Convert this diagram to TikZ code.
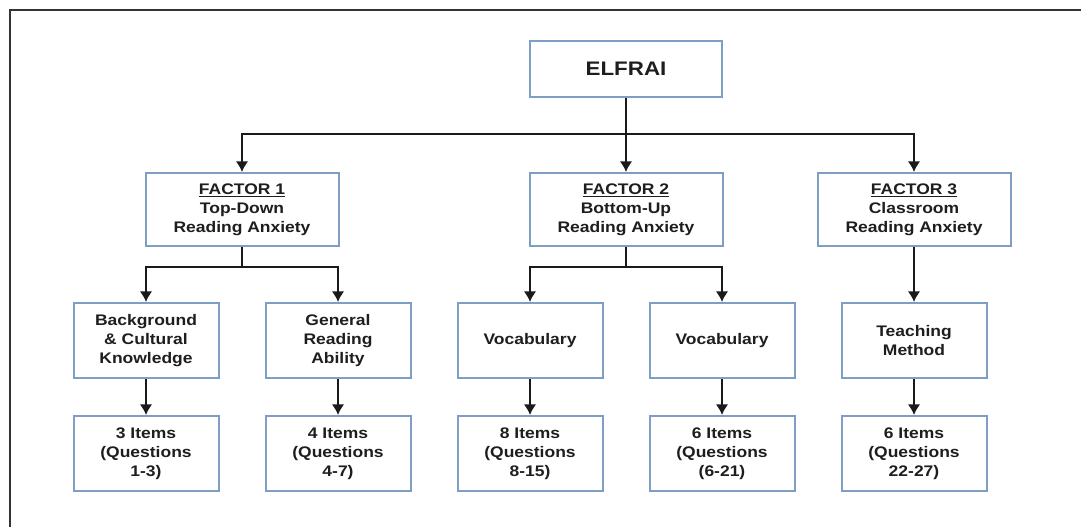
\documentclass[tikz,border=0pt]{standalone}
\usepackage{fontspec}
\setmainfont{Liberation Sans}[FakeStretch=1.14]
\usetikzlibrary{arrows.meta,positioning,calc}
\definecolor{EdgeBlue}{HTML}{7F9EC4}
\definecolor{InkGray}{HTML}{1E1E1E}
\definecolor{LineGray}{HTML}{1A1A1A}
\tikzset{
  box/.style={draw=EdgeBlue,line width=1.5pt,fill=white,align=center,text=InkGray,
              font=\fontsize{11.5}{14.25}\selectfont\bfseries,inner sep=2pt},
  topbox/.style={box,minimum width=144pt,minimum height=42pt,
              font=\fontsize{14.7}{17}\selectfont\bfseries},
  factorbox/.style={box,minimum width=144.75pt,minimum height=54.75pt},
  itembox/.style={box,minimum width=108.75pt,minimum height=56.25pt},
  flow/.style={-{Latex[length=8pt,width=9.5pt]},line width=1.5pt,draw=LineGray},
  link/.style={line width=1.5pt,draw=LineGray},
  frame/.style={line width=1.5pt,draw=black!80}
}

\begin{document}
\begin{tikzpicture}[x=0.75pt,y=-0.75pt,node distance=27pt and 33.75pt]
  \useasboundingbox (0,0) rectangle (1081,527);
  \draw[frame] (10,527) -- (10,10) -- (1081,10);

  % subscales
  \node[itembox] (bg) at (146,340.5) {Background\\\& Cultural\\Knowledge};
  \node[itembox,right=of bg] (gen) {General\\Reading\\Ability};
  \node[itembox,right=of gen] (voc1) {Vocabulary};
  \node[itembox,right=of voc1] (voc2) {Vocabulary};
  \node[itembox,right=of voc2] (teach) {Teaching\\Method};

  % item counts
  \node[itembox,below=of bg] (bgq) {3 Items\\(Questions\\1-3)};
  \node[itembox,below=of gen] (genq) {4 Items\\(Questions\\4-7)};
  \node[itembox,below=of voc1] (voc1q) {8 Items\\(Questions\\8-15)};
  \node[itembox,below=of voc2] (voc2q) {6 Items\\(Questions\\(6-21)};
  \node[itembox,below=of teach] (teachq) {6 Items\\(Questions\\22-27)};

  % factors
  \coordinate (m1) at ($(bg.north)!0.5!(gen.north)$);
  \coordinate (m2) at ($(voc1.north)!0.5!(voc2.north)$);
  \node[factorbox,above=41.25pt of m1] (f1) {\underline{FACTOR 1}\\Top-Down\\Reading Anxiety};
  \node[factorbox,above=41.25pt of m2] (f2) {\underline{FACTOR 2}\\Bottom-Up\\Reading Anxiety};
  \node[factorbox,above=41.25pt of teach] (f3) {\underline{FACTOR 3}\\Classroom\\Reading Anxiety};
  \node[topbox,above=55.5pt of f2] (elfrai) {ELFRAI};

  % connectors
  \coordinate[below=27pt of elfrai.south] (s0);
  \coordinate[below=15pt of f1.south] (s1);
  \coordinate[below=15pt of f2.south] (s2);
  \draw[flow] (elfrai) -- (f2);
  \draw[flow] (s0) -| (f1);
  \draw[flow] (s0) -| (f3);
  \draw[link] (f1) -- (s1);
  \draw[flow] (s1) -| (bg);
  \draw[flow] (s1) -| (gen);
  \draw[link] (f2) -- (s2);
  \draw[flow] (s2) -| (voc1);
  \draw[flow] (s2) -| (voc2);
  \draw[flow] (f3) -- (teach);
  \draw[flow] (bg) -- (bgq);
  \draw[flow] (gen) -- (genq);
  \draw[flow] (voc1) -- (voc1q);
  \draw[flow] (voc2) -- (voc2q);
  \draw[flow] (teach) -- (teachq);
\end{tikzpicture}
\end{document}
